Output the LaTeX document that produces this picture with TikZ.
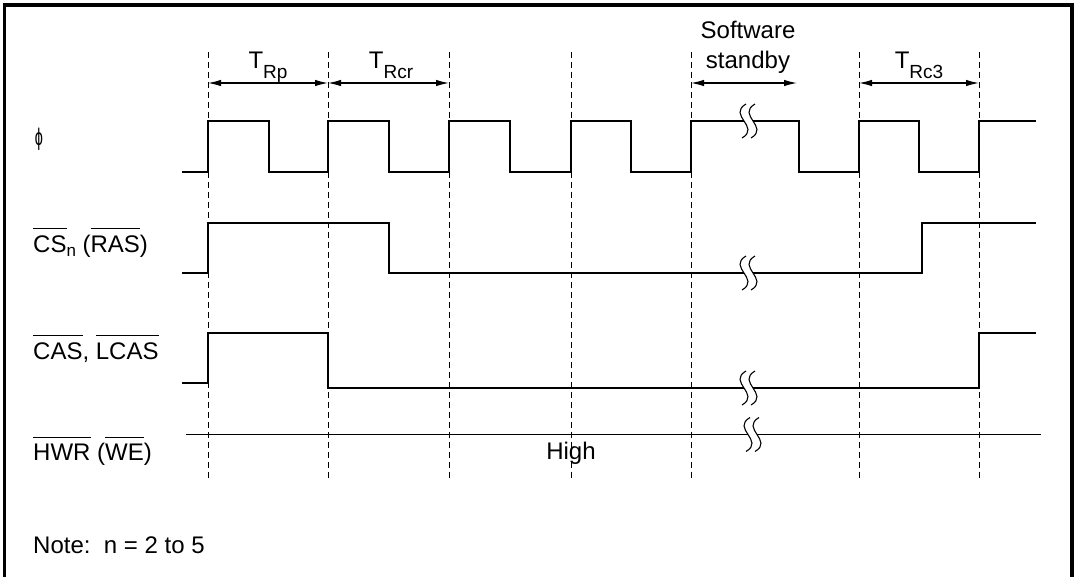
\documentclass[tikz,border=0pt]{standalone}
\usepackage{fontspec}
\setmainfont{Liberation Sans}
\usepackage{graphicx}
\usepackage{tikz}
\usetikzlibrary{arrows.meta}

% overlined signal name
\newcommand{\barsig}[1]{\setbox0\hbox{#1}\rlap{\rule[0.95em]{\wd0}{0.055em}}\box0\relax}
% lowered subscripts
\newcommand{\tsub}[1]{\raisebox{-10pt}{\fontsize{19}{19}\selectfont #1}}
\newcommand{\nsub}[1]{\raisebox{-4pt}{\fontsize{17}{17}\selectfont #1}}
% break mark on a signal line
\newcommand{\brkmark}[2]{%
  \fill[white] (#1,#2-2.5) rectangle (#1+9,#2+2.5);
  \draw[line width=1.1pt] (#1+2,#2-17) .. controls (#1-17,#2-6) and (#1+17,#2+6) .. (#1-2,#2+17);
  \draw[line width=1.1pt] (#1+11,#2-17) .. controls (#1-8,#2-6) and (#1+26,#2+6) .. (#1+7,#2+17);}

\tikzset{
  lbl/.style={font=\fontsize{24}{29}\selectfont, inner sep=0pt},
  sig/.style={line width=1.5pt},
  grid/.style={line width=0.9pt, dash pattern=on 6pt off 4pt},
  dim/.style={line width=1.2pt, {Latex[length=13pt,width=6.5pt]}-{Latex[length=13pt,width=6.5pt]}}
}

\begin{document}
\begin{tikzpicture}[x=1pt,y=-1pt]
  \useasboundingbox (0,0) rectangle (1074,576);
  % frame
  \draw[line width=3.5pt] (4.5,590) -- (4.5,5) -- (1072,5) -- (1072,590);

  % state boundaries
  \foreach \x [count=\i] in {208,328,449,571,691,859,979} {
    \draw[grid] (\x,52) -- (\x,478);
    \coordinate (a\i) at (\x,83);
  }
  \coordinate (sbend) at (797,83);

  % state widths
  \draw[dim] (a1) -- (a2);
  \draw[dim] (a2) -- (a3);
  \draw[dim] (a5) -- (sbend);
  \draw[dim] (a6) -- (a7);
  \node[lbl,anchor=base] (trp) at (268,68) {T\tsub{Rp}};
  \node[lbl,anchor=base] (trcr) at (391,68) {T\tsub{Rcr}};
  \node[lbl,anchor=base] (sw1) at (748,38.6) {Software};
  \node[lbl,anchor=base] (sw2) at (748,68) {standby};
  \node[lbl,anchor=base] (trc3) at (919,68) {T\tsub{Rc3}};

  % clock
  \node[lbl] (phi) at (39,139) {\scalebox{0.6}[1]{ϕ}};
  \draw[sig] (182,172) -- (208,172) -- (208,121) -- (269,121) -- (269,172)
    -- (328,172) -- (328,121) -- (389,121) -- (389,172) -- (449,172)
    -- (449,121) -- (510,121) -- (510,172) -- (571,172) -- (571,121)
    -- (631,121) -- (631,172) -- (691,172) -- (691,121) -- (799,121)
    -- (799,172) -- (859,172) -- (859,121) -- (919,121) -- (919,172)
    -- (979,172) -- (979,121) -- (1036,121);
  \brkmark{744}{121}

  % CSn (RAS)
  \node[lbl,anchor=base west] (cs) at (33,252) {\barsig{CS}\nsub{n} (\barsig{RAS})};
  \draw[sig] (182,273) -- (208,273) -- (208,223) -- (389,223) -- (389,273)
    -- (922,273) -- (922,223) -- (1036,223);
  \brkmark{744}{273}

  % CAS, LCAS
  \node[lbl,anchor=base west] (cas) at (33,359) {\barsig{CAS}, \barsig{LCAS}};
  \draw[sig] (182,383) -- (208,383) -- (208,333) -- (328,333) -- (328,388)
    -- (979,388) -- (979,333) -- (1036,333);
  \brkmark{744}{388}

  % HWR (WE)
  \node[lbl,anchor=base west] (hwr) at (33,460.7) {\barsig{HWR} (\barsig{WE})};
  \draw[sig] (186,434.5) -- (1041,434.5);
  \brkmark{748}{434.5}
  \node[lbl,anchor=base] (high) at (571,459) {High};

  % note
  \node[lbl,anchor=base west] (note) at (33,553.7) {Note:\ \ n = 2 to 5};
\end{tikzpicture}
\end{document}
